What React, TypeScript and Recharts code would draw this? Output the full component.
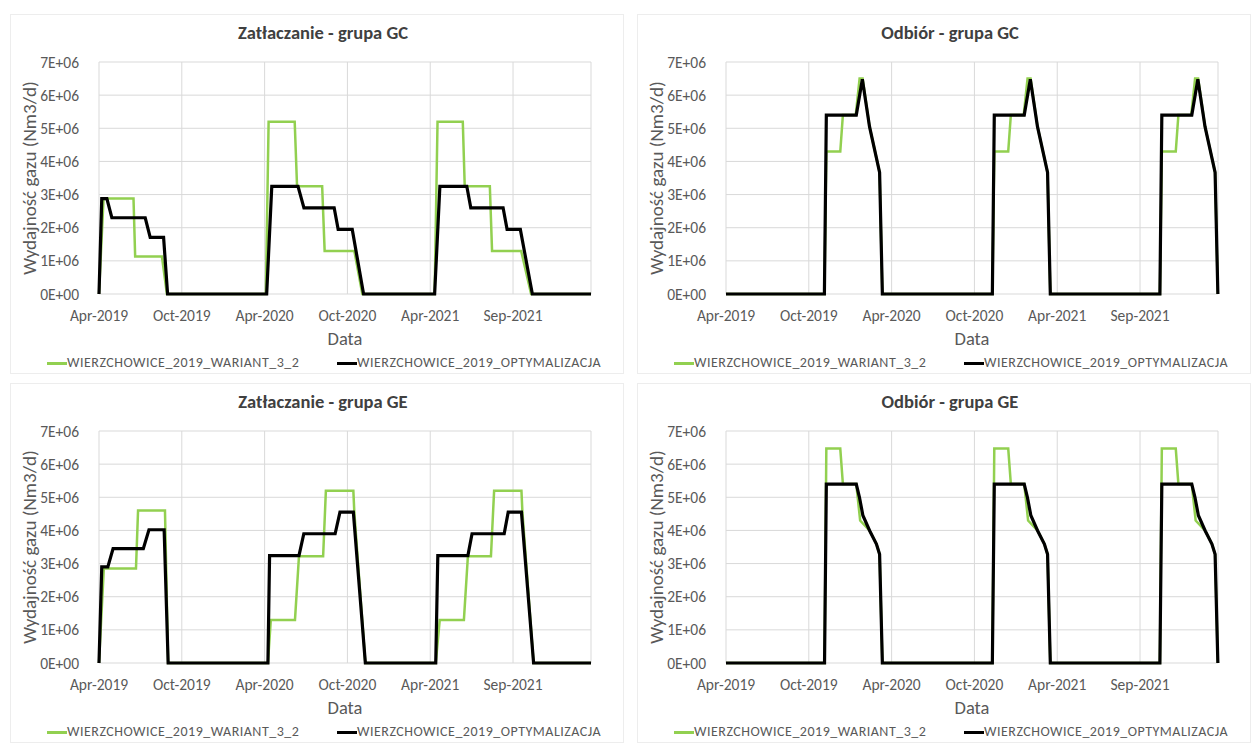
import { LineChart, Line, XAxis, YAxis, CartesianGrid } from "recharts"

type Pt = [number, number]

// x = months since Apr-2019, y = Nm3/d
const monthTicks = [0, 6, 12, 18, 24, 30]
const monthLabels = ["Apr-2019", "Oct-2019", "Apr-2020", "Oct-2020", "Apr-2021", "Sep-2021"]
const valueTicks = [0, 1e6, 2e6, 3e6, 4e6, 5e6, 6e6, 7e6]
const seriesNames = ["WIERZCHOWICE_2019_WARIANT_3_2", "WIERZCHOWICE_2019_OPTYMALIZACJA"]
const panelTitles = ["Zatłaczanie - grupa GC", "Odbiór - grupa GC", "Zatłaczanie - grupa GE", "Odbiór - grupa GE"]

const gcInjWariant: Pt[] = [
  [0, 0], [0.33, 2.88e6], [2.5, 2.88e6], [2.62, 1.13e6], [4.56, 1.13e6], [4.92, 0],
  [12.09, 0], [12.29, 5.2e6], [14.18, 5.2e6], [14.35, 3.25e6], [16.17, 3.25e6], [16.35, 1.3e6], [18.5, 1.3e6], [19.08, 0],
  [24.32, 0], [24.53, 5.2e6], [26.36, 5.2e6], [26.5, 3.25e6], [28.32, 3.25e6], [28.48, 1.3e6], [30.59, 1.3e6], [31.31, 0],
  [35.65, 0],
]
const gcInjOpt: Pt[] = [
  [0, 0], [0.2, 2.88e6], [0.57, 2.88e6], [0.93, 2.3e6], [3.35, 2.3e6], [3.71, 1.71e6], [4.68, 1.71e6], [4.97, 0],
  [12.15, 0], [12.52, 3.25e6], [14.42, 3.25e6], [14.85, 2.6e6], [17.04, 2.6e6], [17.33, 1.95e6], [18.35, 1.95e6], [19.17, 0],
  [24.32, 0], [24.7, 3.25e6], [26.65, 3.25e6], [26.94, 2.6e6], [29.28, 2.6e6], [29.57, 1.95e6], [30.53, 1.95e6], [31.4, 0],
  [35.65, 0],
]
const gcWdrWariant: Pt[] = [
  [0, 0], [7.13, 0], [7.27, 4.3e6], [8.28, 4.3e6], [8.47, 5.4e6], [9.4, 5.4e6], [9.68, 6.5e6], [9.9, 6.5e6], [10.4, 5.05e6], [11.13, 3.67e6], [11.33, 0],
  [19.3, 0], [19.44, 4.3e6], [20.45, 4.3e6], [20.64, 5.4e6], [21.57, 5.4e6], [21.85, 6.5e6], [22.07, 6.5e6], [22.57, 5.05e6], [23.3, 3.67e6], [23.5, 0],
  [31.44, 0], [31.58, 4.3e6], [32.59, 4.3e6], [32.78, 5.4e6], [33.71, 5.4e6], [33.99, 6.5e6], [34.21, 6.5e6], [34.71, 5.05e6], [35.44, 3.67e6], [35.64, 0],
]
const gcWdrOpt: Pt[] = [
  [0, 0], [7.13, 0], [7.27, 5.4e6], [9.44, 5.4e6], [9.88, 6.48e6], [10.4, 5.05e6], [11.13, 3.67e6], [11.33, 0],
  [19.3, 0], [19.44, 5.4e6], [21.61, 5.4e6], [22.05, 6.48e6], [22.57, 5.05e6], [23.3, 3.67e6], [23.5, 0],
  [31.44, 0], [31.58, 5.4e6], [33.75, 5.4e6], [34.19, 6.48e6], [34.71, 5.05e6], [35.44, 3.67e6], [35.64, 0],
]
const geInjWariant: Pt[] = [
  [0, 0], [0.35, 2.85e6], [2.68, 2.85e6], [2.83, 4.6e6], [4.78, 4.6e6], [5.01, 0],
  [12.24, 0], [12.45, 1.3e6], [14.2, 1.3e6], [14.49, 3.22e6], [16.24, 3.22e6], [16.44, 5.2e6], [18.43, 5.2e6], [18.5, 4.55e6], [19.3, 0],
  [24.4, 0], [24.69, 1.3e6], [26.44, 1.3e6], [26.73, 3.22e6], [28.4, 3.22e6], [28.63, 5.2e6], [30.61, 5.2e6], [30.68, 4.55e6], [31.49, 0],
  [35.65, 0],
]
const geInjOpt: Pt[] = [
  [0, 0], [0.2, 2.9e6], [0.64, 2.9e6], [1.02, 3.45e6], [3.21, 3.45e6], [3.62, 4.02e6], [4.72, 4.02e6], [5.01, 0],
  [12.24, 0], [12.36, 3.24e6], [14.49, 3.24e6], [14.84, 3.9e6], [17.11, 3.9e6], [17.46, 4.55e6], [18.43, 4.55e6], [19.3, 0],
  [24.4, 0], [24.55, 3.24e6], [26.73, 3.24e6], [27.03, 3.9e6], [29.36, 3.9e6], [29.65, 4.55e6], [30.61, 4.55e6], [31.49, 0],
  [35.65, 0],
]
const geWdrWariant: Pt[] = [
  [0, 0], [7.14, 0], [7.27, 6.47e6], [8.28, 6.47e6], [8.47, 5.4e6], [9.44, 5.4e6], [9.72, 4.3e6], [10.41, 3.99e6], [10.9, 3.59e6], [11.13, 3.28e6], [11.33, 0],
  [19.3, 0], [19.44, 6.47e6], [20.45, 6.47e6], [20.64, 5.4e6], [21.61, 5.4e6], [21.89, 4.3e6], [22.58, 3.99e6], [23.07, 3.59e6], [23.3, 3.28e6], [23.5, 0],
  [31.44, 0], [31.58, 6.47e6], [32.59, 6.47e6], [32.78, 5.4e6], [33.75, 5.4e6], [34.03, 4.3e6], [34.72, 3.99e6], [35.21, 3.59e6], [35.44, 3.28e6], [35.64, 0],
]
const geWdrOpt: Pt[] = [
  [0, 0], [7.14, 0], [7.27, 5.4e6], [9.44, 5.4e6], [9.67, 5.0e6], [9.92, 4.45e6], [10.41, 3.99e6], [10.9, 3.59e6], [11.13, 3.28e6], [11.33, 0],
  [19.3, 0], [19.44, 5.4e6], [21.61, 5.4e6], [21.84, 5.0e6], [22.09, 4.45e6], [22.58, 3.99e6], [23.07, 3.59e6], [23.3, 3.28e6], [23.5, 0],
  [31.44, 0], [31.58, 5.4e6], [33.75, 5.4e6], [33.98, 5.0e6], [34.23, 4.45e6], [34.72, 3.99e6], [35.21, 3.59e6], [35.44, 3.28e6], [35.64, 0],
]

const GREEN = "#92D050"
const FONT = "Calibri, Carlito, Lato, 'Open Sans', sans-serif"
const TEXT = "#595959"

const toRows = (pts: Pt[]) => pts.map(([m, v]) => ({ m, v }))
const fmtValue = (v: number) => (v === 0 ? "0E+00" : `${Math.round(v / 1e6)}E+06`)
const fmtMonth = (v: number) => monthLabels[monthTicks.indexOf(v)] ?? ""

function Panel({ left, top, title, wariant, opt }: { left: number; top: number; title: string; wariant: Pt[]; opt: Pt[] }) {
  return (
    <div style={{ position: "absolute", left, top, width: 614, height: 360, fontFamily: FONT }}>
      <div style={{ position: "absolute", left: 0, top: 0, width: 614, height: 360, border: "1px solid #ededed", boxSizing: "border-box" }} />
      <div style={{ position: "absolute", left: 0, top: 8, width: 626, textAlign: "center", fontSize: 18.5, fontWeight: 700, color: "#404040", lineHeight: "22px" }}>
        {title}
      </div>
      <div style={{ position: "absolute", left: 0, top: 0 }}>
        <LineChart width={612} height={358} margin={{ top: 48, right: 31, bottom: 48, left: 25 }}>
          <CartesianGrid stroke="#d9d9d9" strokeWidth={1} />
          <XAxis
            dataKey="m"
            type="number"
            domain={[0, 35.65]}
            ticks={monthTicks}
            tickFormatter={fmtMonth}
            height={30}
            axisLine={false}
            tickLine={false}
            tickMargin={10}
            interval={0}
            tick={{ fill: TEXT, fontSize: 15.5, fontFamily: FONT }}
          />
          <YAxis
            type="number"
            domain={[0, 7e6]}
            ticks={valueTicks}
            tickFormatter={fmtValue}
            width={64}
            axisLine={false}
            tickLine={false}
            tickMargin={14}
            interval={0}
            tick={{ fill: TEXT, fontSize: 15.5, fontFamily: FONT }}
          />
          <Line data={toRows(wariant)} dataKey="v" type="linear" stroke={GREEN} strokeWidth={2.5} dot={false} activeDot={false} isAnimationActive={false} />
          <Line data={toRows(opt)} dataKey="v" type="linear" stroke="#000000" strokeWidth={3.2} dot={false} activeDot={false} isAnimationActive={false} />
        </LineChart>
      </div>
      <div style={{ position: "absolute", left: 20 - 130, top: 164 - 12, width: 260, height: 24, lineHeight: "24px", textAlign: "center", transform: "rotate(-90deg)", fontSize: 19, color: TEXT, whiteSpace: "nowrap" }}>
        Wydajność gazu (Nm3/d)
      </div>
      <div style={{ position: "absolute", left: 89, top: 314, width: 492, textAlign: "center", fontSize: 18.5, color: TEXT, lineHeight: "22px" }}>
        Data
      </div>
      {[GREEN, "#000000"].map((c, i) => (
        <div key={i} style={{ position: "absolute", left: i === 0 ? 37 : 327, top: 340, height: 18, display: "flex", alignItems: "center" }}>
          <div style={{ width: 20, height: 3, background: c }} />
          <span style={{ fontSize: 14, letterSpacing: 0.5, color: TEXT, lineHeight: "18px", whiteSpace: "nowrap" }}>{seriesNames[i]}</span>
        </div>
      ))}
    </div>
  )
}

export default function App() {
  return (
    <div style={{ position: "absolute", left: 0, top: 0, width: 1260, height: 749, background: "#ffffff" }}>
      <Panel left={10} top={14} title={panelTitles[0]} wariant={gcInjWariant} opt={gcInjOpt} />
      <Panel left={637} top={14} title={panelTitles[1]} wariant={gcWdrWariant} opt={gcWdrOpt} />
      <Panel left={10} top={383} title={panelTitles[2]} wariant={geInjWariant} opt={geInjOpt} />
      <Panel left={637} top={383} title={panelTitles[3]} wariant={geWdrWariant} opt={geWdrOpt} />
    </div>
  )
}
